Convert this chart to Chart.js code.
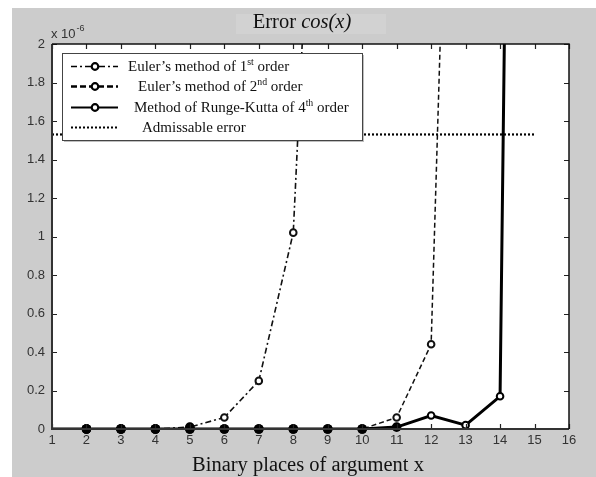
<!DOCTYPE html>
<html><head><meta charset="utf-8">
<script src="https://cdn.jsdelivr.net/npm/chart.js@4/dist/chart.umd.min.js"></script>
<style>html,body{margin:0;padding:0;background:#fff}</style>
</head><body>
<canvas id="c" width="596" height="477"></canvas>
<script>
// Binary places of argument x
const euler1X = [1,2,3,4,5,6,7,8,9];
const euler1Y = [0,0,0,0,0.01,0.06,0.25,1.02,4.8];
const euler2X = [1,2,3,4,5,6,7,8,9,10,11,12,13];
const euler2Y = [0,0,0,0,0,0,0,0,0,0,0.06,0.44,6.4];
const rk4X = [1,2,3,4,5,6,7,8,9,10,11,12,13,14,15];
const rk4Y = [0,0,0,0,0,0,0,0,0,0,0.01,0.07,0.02,0.17,15];
const admX = [1,15];
const admY = [1.53,1.53];
const xTicks = [1,2,3,4,5,6,7,8,9,10,11,12,13,14,15,16];
const yTicks = [0,0.2,0.4,0.6,0.8,1,1.2,1.4,1.6,1.8,2];

const pts = (xs, ys) => xs.map((x,i)=>({x, y: ys[i]}));
const SERIF = '"Liberation Serif","Times New Roman",serif';
const SANS = '"Liberation Sans",Arial,sans-serif';
const fills = ys => ys.map(v => v < 0.015 ? '#000' : '#fff');
const radii = xs => xs.map(x => x === 1 ? 0 : 3.3);

function drawRich(ctx, x, y, parts, size) {
  let cx = x;
  for (const p of parts) {
    if (p.sup) {
      ctx.font = (size*0.65).toFixed(1) + 'px ' + SERIF;
      ctx.fillText(p.t, cx, y - size*0.4);
    } else {
      ctx.font = (p.it ? 'italic ' : '') + size + 'px ' + SERIF;
      ctx.fillText(p.t, cx, y);
    }
    cx += ctx.measureText(p.t).width;
  }
  return cx - x;
}
function richWidth(ctx, parts, size) {
  let w = 0;
  for (const p of parts) {
    ctx.font = p.sup ? (size*0.65).toFixed(1)+'px '+SERIF : (p.it?'italic ':'')+size+'px '+SERIF;
    w += ctx.measureText(p.t).width;
  }
  return w;
}

const deco = {
  id: 'deco',
  beforeDraw(chart) {
    const {ctx, chartArea: a} = chart;
    ctx.save();
    ctx.fillStyle = '#fff';
    ctx.fillRect(0,0,chart.width,chart.height);
    ctx.fillStyle = '#cccccc';
    ctx.fillRect(12,8,chart.width-12,chart.height-8);
    ctx.fillStyle = '#d2d2d2';
    ctx.fillRect(236,14,150,20);
    ctx.fillStyle = '#fff';
    ctx.fillRect(a.left,a.top,a.right-a.left,a.bottom-a.top);
    ctx.restore();
  },
  afterDatasetsDraw(chart) {
    // solid dots where the three series overlap on the zero line
    const ctx = chart.ctx;
    ctx.save();
    ctx.fillStyle = '#000';
    chart.data.datasets.forEach((ds, i) => {
      if (!ds.pointRadius) return;
      const meta = chart.getDatasetMeta(i);
      meta.data.forEach((el, j) => {
        if (ds.data[j].y < 0.015 && ds.data[j].x > 1) {
          ctx.beginPath(); ctx.arc(el.x, el.y, 4.8, 0, Math.PI*2); ctx.fill();
        }
      });
    });
    ctx.restore();
  },
  afterDraw(chart) {
    const {ctx, chartArea: a, scales: {x, y}} = chart;
    ctx.save();
    // inward ticks
    ctx.strokeStyle = '#222';
    ctx.lineWidth = 1.2;
    ctx.beginPath();
    xTicks.forEach(v => {
      const px = Math.round(x.getPixelForValue(v)) + 0.5;
      ctx.moveTo(px, a.bottom); ctx.lineTo(px, a.bottom-5);
      ctx.moveTo(px, a.top); ctx.lineTo(px, a.top+5);
    });
    yTicks.forEach(v => {
      const py = Math.round(y.getPixelForValue(v)) + 0.5;
      ctx.moveTo(a.left, py); ctx.lineTo(a.left+5, py);
      ctx.moveTo(a.right, py); ctx.lineTo(a.right-5, py);
    });
    ctx.stroke();
    // box
    ctx.strokeStyle = '#333';
    ctx.lineWidth = 2;
    ctx.beginPath();
    ctx.moveTo(a.left, a.top); ctx.lineTo(a.left, a.bottom); ctx.lineTo(a.right, a.bottom);
    ctx.stroke();
    ctx.strokeStyle = '#111';
    ctx.lineWidth = 1.5;
    ctx.beginPath();
    ctx.moveTo(a.left, a.top); ctx.lineTo(a.right, a.top); ctx.lineTo(a.right, a.bottom);
    ctx.stroke();

    // exponent label
    ctx.fillStyle = '#333';
    ctx.textBaseline = 'alphabetic';
    ctx.font = '13px ' + SANS;
    ctx.fillText('x 10', 51, 38);
    const w = ctx.measureText('x 10').width;
    ctx.font = '9px ' + SANS;
    ctx.fillText('-6', 51 + w + 1, 31);

    // title
    ctx.fillStyle = '#111';
    const tParts = [{t:'Error '},{t:'cos(x)', it:true}];
    const tw = richWidth(ctx, tParts, 20.5);
    drawRich(ctx, 302 - tw/2, 28, tParts, 20.5);
    // x-axis title
    ctx.font = '20.5px ' + SERIF;
    ctx.textAlign = 'center';
    ctx.fillText('Binary places of argument x', 308, 471);
    ctx.textAlign = 'left';

    // legend
    const L = {l: 62, t: 53, r: 362, b: 140};
    ctx.fillStyle = 'rgba(0,0,0,0.25)';
    ctx.fillRect(L.l+2, L.t+2, L.r-L.l, L.b-L.t);
    ctx.fillStyle = '#fff';
    ctx.fillRect(L.l, L.t, L.r-L.l, L.b-L.t);
    ctx.strokeStyle = '#444';
    ctx.lineWidth = 1;
    ctx.strokeRect(L.l+0.5, L.t+0.5, L.r-L.l, L.b-L.t);
    const rows = [
      {y:66, dash:[6,3,2,3], lw:1.6, mk:true, tx:128, parts:[{t:'Euler’s method of 1'},{t:'st',sup:true},{t:' order'}]},
      {y:86, dash:[6,3], lw:2.4, mk:true, tx:138, parts:[{t:'Euler’s method of 2'},{t:'nd',sup:true},{t:' order'}]},
      {y:107, dash:[], lw:2, mk:true, tx:134, parts:[{t:'Method of Runge-Kutta of 4'},{t:'th',sup:true},{t:' order'}]},
      {y:127, dash:[2,2], lw:2, mk:false, tx:142, parts:[{t:'Admissable error'}]}
    ];
    rows.forEach(r => {
      ctx.strokeStyle = '#000';
      ctx.lineWidth = r.lw;
      ctx.setLineDash(r.dash);
      ctx.beginPath(); ctx.moveTo(71, r.y+0.5); ctx.lineTo(118, r.y+0.5); ctx.stroke();
      ctx.setLineDash([]);
      if (r.mk) {
        ctx.fillStyle = '#fff'; ctx.lineWidth = 2.2;
        ctx.beginPath(); ctx.arc(95, r.y+0.5, 3.3, 0, Math.PI*2); ctx.fill(); ctx.stroke();
      }
      ctx.fillStyle = '#111';
      drawRich(ctx, r.tx, r.y + 5, r.parts, 15);
    });
    ctx.restore();
  }
};

new Chart(document.getElementById('c'), {
  type: 'line',
  data: {
    datasets: [
      { label: 'Admissable error', data: pts(admX, admY), borderColor: '#000', borderWidth: 2.2,
        borderDash: [2,2], pointRadius: 0, order: 4 },
      { label: 'Euler1', data: pts(euler1X, euler1Y), borderColor: '#111', borderWidth: 1.6,
        borderDash: [6,3,2,3], pointRadius: radii(euler1X), pointBorderWidth: 2, pointBorderColor: '#111',
        pointBackgroundColor: fills(euler1Y), order: 3 },
      { label: 'Euler2', data: pts(euler2X, euler2Y), borderColor: '#111', borderWidth: 1.5,
        borderDash: [5,3], pointRadius: radii(euler2X), pointBorderWidth: 2, pointBorderColor: '#111',
        pointBackgroundColor: fills(euler2Y), order: 2 },
      { label: 'RK4', data: pts(rk4X, rk4Y), borderColor: '#000', borderWidth: 3,
        pointRadius: radii(rk4X), pointBorderWidth: 2, pointBorderColor: '#000',
        pointBackgroundColor: fills(rk4Y), order: 1 }
    ]
  },
  options: {
    responsive: false,
    devicePixelRatio: 1,
    animation: false,
    layout: { padding: { left: 0, top: 44, right: 27, bottom: 0 } },
    plugins: { legend: { display: false }, tooltip: { enabled: false }, title: { display: false } },
    elements: { line: { tension: 0, fill: false } },
    scales: {
      x: {
        type: 'linear', min: 1, max: 16,
        afterBuildTicks: s => { s.ticks = xTicks.map(v => ({value: v})); },
        afterFit: s => { s.height = 48; },
        grid: { display: false, drawTicks: false },
        border: { display: false },
        ticks: { color: '#333', font: { family: SANS, size: 13 }, padding: 4, maxRotation: 0, autoSkip: false,
                 callback: v => String(v) }
      },
      y: {
        type: 'linear', min: 0, max: 2,
        afterBuildTicks: s => { s.ticks = yTicks.map(v => ({value: v})); },
        afterFit: s => { s.width = 52; },
        grid: { display: false, drawTicks: false },
        border: { display: false },
        ticks: { color: '#333', font: { family: SANS, size: 13 }, padding: 7, autoSkip: false,
                 callback: v => String(Math.round(v*10)/10) }
      }
    }
  },
  plugins: [deco]
});
</script>
</body></html>
